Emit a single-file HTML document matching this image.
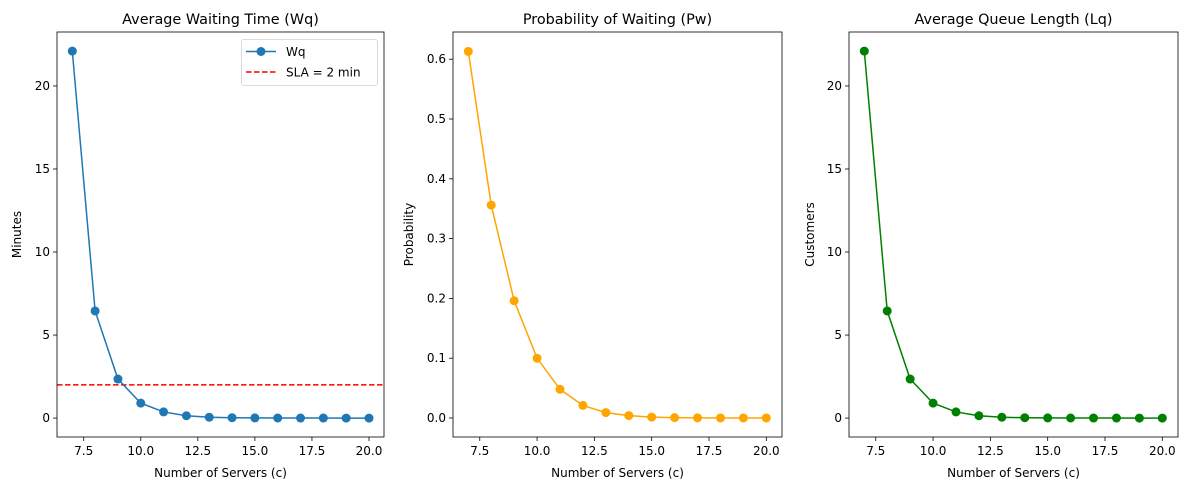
<!DOCTYPE html>
<html><head><meta charset="utf-8"><style>
body{margin:0;background:#fff;}
svg{display:block;font-family:"DejaVu Sans","Liberation Sans",sans-serif;}
</style></head><body>
<svg id="chart" width="1187" height="490" viewBox="0 0 1187 490" xmlns="http://www.w3.org/2000/svg"></svg>
<script>
const servers = [7,8,9,10,11,12,13,14,15,16,17,18,19,20];
const wqValues = [22.1,6.45,2.35,0.9,0.37,0.14,0.05,0.02,0.01,0.004,0.002,0.001,0,0];
const pwValues = [0.613,0.356,0.196,0.100,0.048,0.021,0.009,0.004,0.0015,0.0006,0.0002,0,0,0];
const lqValues = [22.1,6.45,2.35,0.9,0.37,0.14,0.05,0.02,0.01,0.004,0.002,0.001,0,0];
const xTicks = [7.5,10.0,12.5,15.0,17.5,20.0];
const wqTicks = [0,5,10,15,20];
const pwTicks = [0.0,0.1,0.2,0.3,0.4,0.5,0.6];
const slaValue = 2;

const svg = document.getElementById('chart');
const NS = 'http://www.w3.org/2000/svg';
function mk(tag, attrs, parent){
  const e = document.createElementNS(NS, tag);
  for (const k in attrs) e.setAttribute(k, attrs[k]);
  (parent||svg).appendChild(e);
  return e;
}
const plotTop = 32, plotBottom = 437;

function panel(opts){
  const g = mk('g', {});
  
  
  const x0 = opts.left, x1 = opts.right;
  const xs = v => opts.px7 + (v - 7) * (opts.px20 - opts.px7) / 13;
  const ys = v => plotBottom - (v - opts.ymin) * (plotBottom - plotTop) / (opts.ymax - opts.ymin);
  xTicks.forEach(t => {
    const x = xs(t);
    mk('line', {x1:x, x2:x, y1:plotBottom, y2:plotBottom+4, stroke:'#000', 'stroke-width':0.8}, g);
    const tx = mk('text', {x:x, y:plotBottom+18, 'text-anchor':'middle', 'font-size':12, fill:'#000'}, g);
    tx.textContent = t.toFixed(1);
    
    
  });
  opts.yTicks.forEach(t => {
    const y = ys(t);
    mk('line', {x1:x0-4, x2:x0, y1:y, y2:y, stroke:'#000', 'stroke-width':0.8}, g);
    const tx = mk('text', {x:x0-7, y:y+4, 'text-anchor':'end', 'font-size':12, fill:'#000'}, g);
    tx.textContent = opts.yFmt(t);
    
    
  });
  if (opts.sla !== undefined){
    const l = mk('line', {x1:x0, x2:x1, y1:ys(opts.sla), y2:ys(opts.sla), stroke:'#ff0000', 'stroke-width':1.5, 'stroke-dasharray':'5.5,2.5'}, g);
    
    
  }
  const pts = servers.map((s,i) => xs(s).toFixed(2)+','+ys(opts.values[i]).toFixed(2)).join(' ');
  const pl = mk('polyline', {points:pts, fill:'none', stroke:opts.color, 'stroke-width':1.5}, g);
  
  
  servers.forEach((s,i) => {
    const c = mk('circle', {cx:xs(s), cy:ys(opts.values[i]), r:4.5, fill:opts.color}, g);
    
    
  });
  mk('rect', {x:x0, y:plotTop, width:x1-x0, height:plotBottom-plotTop, fill:'none', stroke:'#000', 'stroke-width':0.8}, g);
  const ti = mk('text', {x:(x0+x1)/2, y:24, 'text-anchor':'middle', 'font-size':14.4, fill:'#000'}, g);
  ti.textContent = opts.title;
  
  
  const xl = mk('text', {x:(x0+x1)/2, y:477, 'text-anchor':'middle', 'font-size':12, fill:'#000'}, g);
  xl.textContent = 'Number of Servers (c)';
  
  
  const yx = opts.ylabelX, yy = (plotTop+plotBottom)/2;
  const yl = mk('text', {x:yx, y:yy, 'text-anchor':'middle', 'font-size':12, fill:'#000', transform:`rotate(-90 ${yx} ${yy})`}, g);
  yl.textContent = opts.ylabel;
  
  
  return {g, xs, ys};
}

panel({name:'wq-panel', left:57, right:384, px7:72.3, px20:369, ymin:-1.14, ymax:23.25,
  yTicks:wqTicks, yFmt:t=>String(t), values:wqValues, color:'#1f77b4', title:'Average Waiting Time (Wq)',
  ylabel:'Minutes', ylabelX:21, sla:slaValue});
panel({name:'pw-panel', left:453, right:782, px7:468.3, px20:766.3, ymin:-0.0318, ymax:0.6455,
  yTicks:pwTicks, yFmt:t=>t.toFixed(1), values:pwValues, color:'#ffa500', title:'Probability of Waiting (Pw)',
  ylabel:'Probability', ylabelX:413});
panel({name:'lq-panel', left:849, right:1178, px7:864.3, px20:1162.3, ymin:-1.14, ymax:23.25,
  yTicks:wqTicks, yFmt:t=>String(t), values:lqValues, color:'#008000', title:'Average Queue Length (Lq)',
  ylabel:'Customers', ylabelX:814});

const lg = mk('g', {});


mk('rect', {x:241.5, y:39.5, width:136, height:46, rx:2.5, fill:'#fff', stroke:'#d0d0d0', 'stroke-width':0.8}, lg);
mk('line', {x1:246, x2:276, y1:51.5, y2:51.5, stroke:'#1f77b4', 'stroke-width':1.5}, lg);
mk('circle', {cx:261, cy:51.5, r:4.5, fill:'#1f77b4'}, lg);
const t1 = mk('text', {x:286, y:56, 'font-size':12, fill:'#000'}, lg);
t1.textContent = 'Wq';


mk('line', {x1:246, x2:276, y1:72, y2:72, stroke:'#ff0000', 'stroke-width':1.5, 'stroke-dasharray':'5.5,2.5'}, lg);
const t2 = mk('text', {x:286, y:76.5, 'font-size':12, fill:'#000'}, lg);
t2.textContent = 'SLA = 2 min';


</script>
</body></html>
